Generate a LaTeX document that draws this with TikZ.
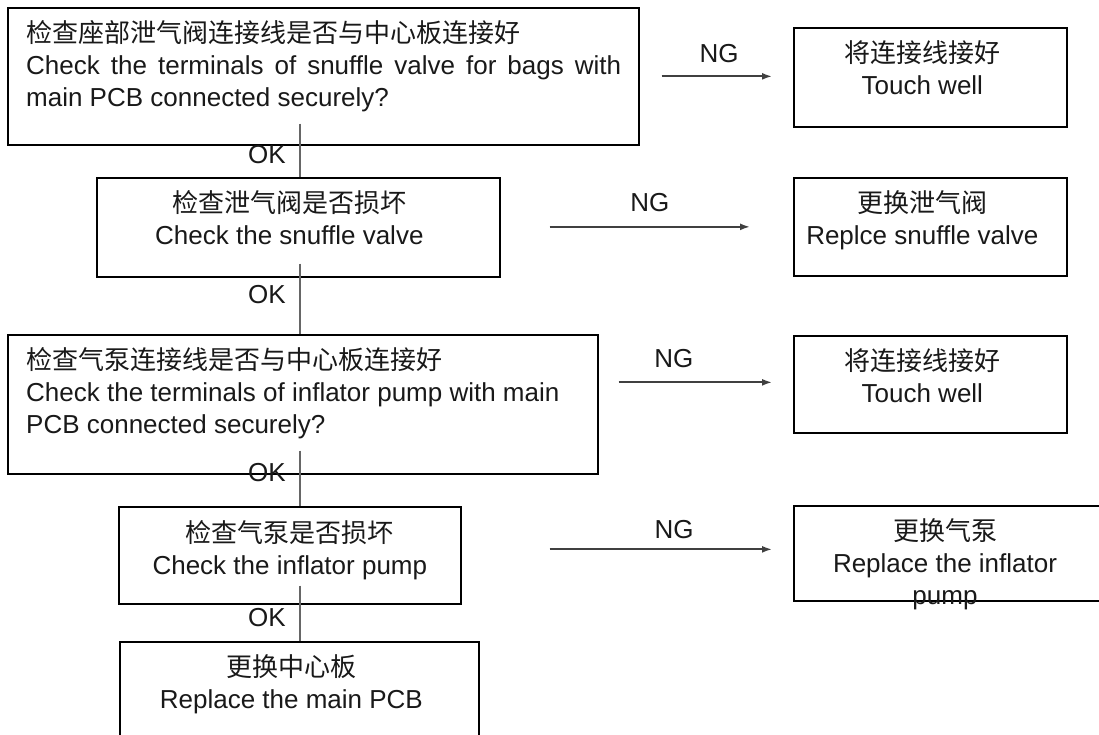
\documentclass[tikz,border=0pt]{standalone}
\usepackage{fontspec}
\setmainfont{Liberation Sans}
\newfontfamily\cjk{Noto Sans CJK SC}
\usetikzlibrary{arrows.meta}

\tikzset{
  stepbox/.style={draw=black, line width=1.7pt, inner sep=0pt, anchor=north west},
  words/.style={font=\fontsize{26}{32}\selectfont, inner sep=0pt, text=black!90},
  okline/.style={draw=black!60, line width=1.4pt},
  ngline/.style={draw=black!75, line width=1.8pt, -{Latex[length=10pt,width=7pt]}},
}

\begin{document}
\begin{tikzpicture}[x=1pt,y=-1pt]
    \clip (0,0) rectangle (1099,734);
    \fill[white] (0,0) rectangle (1099,734);
    \coordinate (spine) at (300,0);

    % Checks down the left
    \node[stepbox, minimum width=631pt, minimum height=137pt] (chk1) at (7,7) {};
    \node[stepbox, minimum width=403pt, minimum height=99pt]  (chk2) at (96,177) {};
    \node[stepbox, minimum width=590pt, minimum height=139pt] (chk3) at (7,334) {};
    \node[stepbox, minimum width=342pt, minimum height=97pt]  (chk4) at (118,506) {};
    \node[stepbox, minimum width=359pt, minimum height=120pt] (repl) at (119,641) {};

    % Fixes on the right
    \node[stepbox, minimum width=273pt, minimum height=99pt] (fix1) at (793,27) {};
    \node[stepbox, minimum width=273pt, minimum height=98pt] (fix2) at (793,177) {};
    \node[stepbox, minimum width=273pt, minimum height=97pt] (fix3) at (793,335) {};
    \node[stepbox, minimum width=340pt, minimum height=95pt] (fix4) at (793,505) {};

    % Texts
    \node[words, align=left, anchor=north west] (chk1t) at ([xshift=19pt,yshift=-13pt]chk1.north west)
      {{\cjk 检查座部泄气阀连接线是否与中心板连接好}\\
       \makebox[595pt][s]{Check the terminals of snuffle valve for bags with}\\
       main PCB connected securely?};
    \node[words, align=center, anchor=north] (chk2t) at ([xshift=-9pt,yshift=-13pt]chk2.north)
      {{\cjk 检查泄气阀是否损坏}\\ Check the snuffle valve};
    \node[words, align=left, anchor=north west] (chk3t) at ([xshift=19pt,yshift=-13pt]chk3.north west)
      {{\cjk 检查气泵连接线是否与中心板连接好}\\
       Check the terminals of inflator pump with main\\
       PCB connected securely?};
    \node[words, align=center, anchor=north] (chk4t) at ([yshift=-14pt]chk4.north)
      {{\cjk 检查气泵是否损坏}\\ Check the inflator pump};
    \node[words, align=center, anchor=north] (replt) at ([xshift=-8pt,yshift=-13pt]repl.north)
      {{\cjk 更换中心板}\\ Replace the main PCB};
    \node[words, align=center, anchor=north] (fix1t) at ([xshift=-8pt,yshift=-13pt]fix1.north)
      {{\cjk 将连接线接好}\\ Touch well};
    \node[words, align=center, anchor=north] (fix2t) at ([xshift=-8pt,yshift=-13pt]fix2.north)
      {{\cjk 更换泄气阀}\\ Replce snuffle valve};
    \node[words, align=center, anchor=north] (fix3t) at ([xshift=-8pt,yshift=-13pt]fix3.north)
      {{\cjk 将连接线接好}\\ Touch well};
    \node[words, align=center, anchor=north] (fix4t) at ([xshift=152pt,yshift=-13pt]fix4.north west)
      {{\cjk 更换气泵}\\ Replace the inflator\\ pump};

    % OK links
    \foreach \a/\b/\s/\y in {chk1/chk2/22/155, chk2/chk3/14/295, chk3/chk4/24/473, chk4/repl/19/618} {
      \draw[okline] ([yshift=\s pt]\a.south -| spine) -- (\b.north -| spine);
      \node[words] (ok-\a) at (267,\y) {OK};
    }

    % NG links
    \draw[ngline] ([xshift=22pt,yshift=1pt]chk1.east |- fix1.west) -- ([xshift=-21pt,yshift=1pt]fix1.west)
      node[words, pos=0.52, above=13pt] (ng1) {NG};
    \draw[ngline] ([xshift=49pt]chk2.east |- fix2.west) -- ([xshift=-43pt]fix2.west)
      node[words, pos=0.5, above=14pt] (ng2) {NG};
    \draw[ngline] ([xshift=20pt,yshift=2pt]chk3.east |- fix3.west) -- ([xshift=-21pt,yshift=2pt]fix3.west)
      node[words, pos=0.36, above=14pt] (ng3) {NG};
    \draw[ngline] ([xshift=88pt,yshift=4pt]chk4.east |- fix4.west) -- ([xshift=-21pt,yshift=4pt]fix4.west)
      node[words, pos=0.56, above=10pt] (ng4) {NG};
\end{tikzpicture}
\end{document}
